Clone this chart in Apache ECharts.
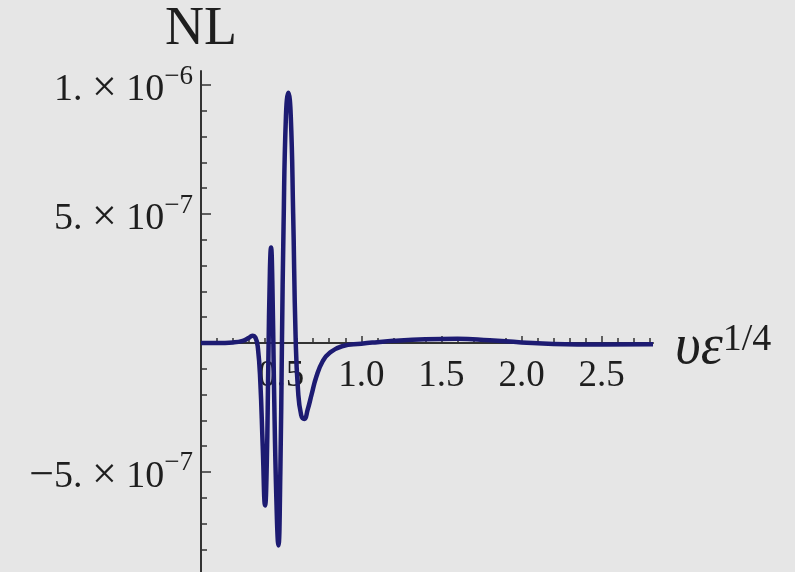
<!DOCTYPE html>
<html><head><meta charset="utf-8">
<script src="https://cdn.jsdelivr.net/npm/echarts@6/dist/echarts.min.js"></script>
<style>html,body{margin:0;padding:0;background:#e6e6e6}#c{width:795px;height:572px}</style>
</head><body><div id="c"></div>
<script>
// x = υε^{1/4}
const xValues = [0, 0.1, 0.2, 0.26, 0.3, 0.32, 0.34, 0.355, 0.37, 0.385, 0.40, 0.41, 0.42, 0.43, 0.437, 0.445, 0.455, 0.47, 0.483, 0.495, 0.505, 0.515, 0.53, 0.545, 0.56, 0.575, 0.59, 0.605, 0.625, 0.645, 0.665, 0.69, 0.72, 0.76, 0.8, 0.88, 1.0, 1.1, 1.2, 1.4, 1.6, 1.8, 2.0, 2.2, 2.5, 2.82];
// NL in units of 1e-7
const nlValues = [0, 0, 0.02, 0.08, 0.2, 0.28, 0.2, -0.2, -1.5, -4.0, -6.3, -4.8, -0.8, 2.8, 3.7, 2.4, -1.5, -6.0, -7.85, -5.0, 0, 4.5, 8.8, 9.7, 8.8, 5.0, 0.3, -1.8, -2.8, -2.95, -2.6, -2.0, -1.3, -0.7, -0.4, -0.13, -0.03, 0.03, 0.08, 0.14, 0.16, 0.1, 0.02, -0.04, -0.06, -0.05];

const xTickLabels = [0.5, 1.0, 1.5, 2.0, 2.5];
const xMinorTicks = [0.1, 0.2, 0.3, 0.4, 0.6, 0.7, 0.8, 0.9, 1.1, 1.2, 1.3, 1.4, 1.6, 1.7, 1.8, 1.9, 2.1, 2.2, 2.3, 2.4, 2.6, 2.7, 2.8];
const yTickValues = [-5, 5, 10];
const yTickMantissa = ['\u22125.', '5.', '1.'];
const yTickExponent = ['\u22127', '\u22127', '\u22126'];
const yMinorTicks = [-8, -7, -6, -4, -3, -2, -1, 1, 2, 3, 4, 6, 7, 8, 9];

const XMIN = 0, XMAX = 2.82, YMIN = -8.88, YMAX = 10.54;
const GRID = {left: 201, top: 71, width: 452, height: 501};
// shift the bottom x axis up to the y = 0 line
const X_OFFSET = -GRID.height * (0 - YMIN) / (YMAX - YMIN);
const FONT = "'Liberation Serif','DejaVu Serif',serif";
const AX = '#333333';
const TXT = '#1e1e1e';

function yLabel(v) {
  const i = yTickValues.indexOf(Math.round(v));
  let m = yTickMantissa[i], sign = '';
  if (m.charAt(0) === '\u2212') { sign = '{x|\u2212}'; m = m.slice(1); }
  return sign + '{m|' + m + ' }{x|\u00D7}{m| 10}{e|' + yTickExponent[i] + '}';
}

const chart = echarts.init(document.getElementById('c'), null, {renderer: 'canvas'});
chart.setOption({
  animation: false,
  backgroundColor: '#e6e6e6',
  grid: Object.assign({containLabel: false, outerBoundsMode: 'none'}, GRID),
  xAxis: [{
    type: 'value', min: XMIN, max: XMAX, position: 'bottom', offset: X_OFFSET,
    axisLine: {show: true, onZero: false, lineStyle: {color: AX, width: 2}},
    axisTick: {show: true, customValues: xTickLabels, inside: true, length: 7, lineStyle: {color: AX, width: 1.5}},
    axisLabel: {show: true, customValues: xTickLabels, hideOverlap: false,
      formatter: v => Number(v).toFixed(1), margin: 15,
      fontSize: 37, lineHeight: 36, fontFamily: FONT, color: TXT},
    splitLine: {show: false},
    name: '{a|\u03C5\u03B5}{s|1/4}', nameLocation: 'end', nameGap: 22,
    nameTextStyle: {color: TXT, fontFamily: FONT, rich: {
      a: {fontSize: 56, fontStyle: 'italic', fontFamily: FONT, color: TXT, lineHeight: 58, padding: [11, 0, 0, 0]},
      s: {fontSize: 38, fontFamily: FONT, color: TXT, lineHeight: 58, padding: [0, 0, 6, 0]}
    }}
  }, {
    type: 'value', min: XMIN, max: XMAX, position: 'bottom', offset: X_OFFSET,
    axisLine: {show: false, onZero: false},
    axisTick: {show: true, customValues: xMinorTicks, inside: true, length: 5, lineStyle: {color: AX, width: 1.5}},
    axisLabel: {show: false}, splitLine: {show: false}
  }],
  yAxis: [{
    type: 'value', min: YMIN, max: YMAX, position: 'left',
    axisLine: {show: true, onZero: false, lineStyle: {color: AX, width: 2}},
    axisTick: {show: true, customValues: yTickValues, inside: true, length: 10, lineStyle: {color: AX, width: 1.5}},
    axisLabel: {show: true, customValues: yTickValues, margin: 8,
      formatter: yLabel,
      rich: {
        m: {fontSize: 38, fontFamily: FONT, color: TXT, lineHeight: 40, padding: [10, 0, 0, 0]},
        x: {fontSize: 44, fontFamily: FONT, color: TXT, lineHeight: 40, padding: [10, 0, 0, 0]},
        e: {fontSize: 27, fontFamily: FONT, color: TXT, lineHeight: 40, padding: [0, 0, 17, 0]}
      }},
    splitLine: {show: false},
    name: 'NL', nameLocation: 'end', nameGap: 14,
    nameTextStyle: {fontSize: 54, lineHeight: 54, fontFamily: FONT, color: TXT, align: 'center'}
  }, {
    type: 'value', min: YMIN, max: YMAX, position: 'left',
    axisLine: {show: false, onZero: false},
    axisTick: {show: true, customValues: yMinorTicks, inside: true, length: 6, lineStyle: {color: AX, width: 1.5}},
    axisLabel: {show: false}, splitLine: {show: false}
  }],
  series: [{
    type: 'line', xAxisIndex: 0, yAxisIndex: 0,
    data: xValues.map((x, i) => [x, nlValues[i]]),
    showSymbol: false, symbol: 'none',
    smooth: 0.5,
    lineStyle: {color: '#1d1b72', width: 4.5},
    clip: false, z: 5
  }]
});
</script></body></html>
